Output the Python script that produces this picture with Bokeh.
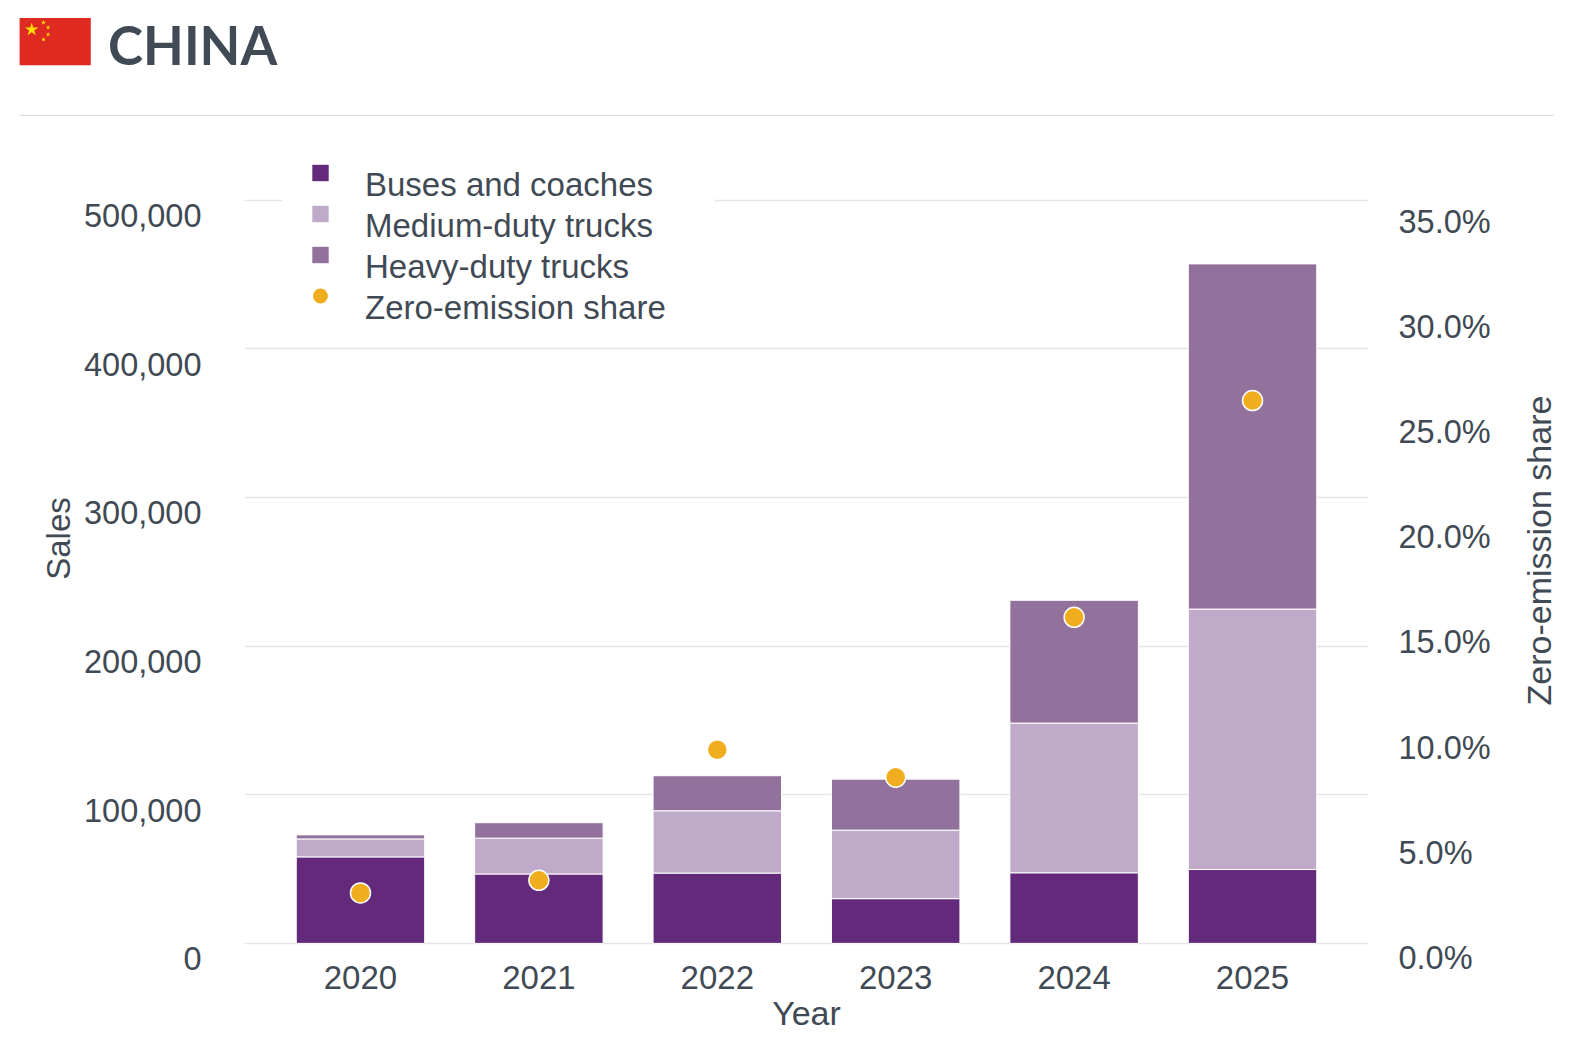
import math
from bokeh.plotting import figure
from bokeh.models import (ColumnDataSource, FactorRange, Range1d, LinearAxis, FixedTicker,
                          NumeralTickFormatter, PrintfTickFormatter, Grid, Legend, LegendItem)
from bokeh.core.properties import value
from bokeh.embed import file_html
from bokeh.resources import INLINE

# ---------------- data ----------------
country = "CHINA"
years = ["2020", "2021", "2022", "2023", "2024", "2025"]
buses = [58200, 46700, 47300, 30100, 47500, 49700]
medium = [12100, 24100, 41900, 46100, 100700, 175200]
heavy = [2700, 10400, 23600, 34300, 82600, 232200]
share = [2.4, 3.0, 9.2, 7.9, 15.5, 25.8]
series_names = ["Buses and coaches", "Medium-duty trucks", "Heavy-duty trucks"]
share_name = "Zero-emission share"
sales_ticks = [0, 100000, 200000, 300000, 400000, 500000]
share_ticks = [0, 5, 10, 15, 20, 25, 30, 35]

# ---------------- style ----------------
TEXT = "#3f4a54"
FONT = "Liberation Sans"
COLORS = ["#63297a", "#bfabc9", "#93719d"]
DOT = "#f0ad1e"

W_HEAD = 1563
W = 1579
HEAD_H = 116
MAIN_H = 1042 - HEAD_H
BL, BR, FT, FB = 244, 208, 0, 82
FRAME_W = W - BL - BR
FRAME_H = MAIN_H - FT - FB
PX_PER_SALE = 743.3 / 500000
PX_PER_PCT = 21.04
ZERO_UP = 17.1      # px from frame bottom to value 0
LEFT_LAB_UP = 1.8   # tick labels sit slightly below their grid lines
RIGHT_LAB_UP = 2.5


def rng(px_per_unit, up):
    start = -up / px_per_unit
    return Range1d(start, start + FRAME_H / px_per_unit)


# ---------------- header ----------------
head = figure(width=W_HEAD, height=HEAD_H, x_range=Range1d(0, W_HEAD), y_range=Range1d(HEAD_H, 0),
              toolbar_location=None, output_backend="svg", min_border=0,
              x_axis_location=None, y_axis_location=None, outline_line_color=None)
head.grid.visible = False
head.quad(left=[19.1], right=[90.3], top=[17.4], bottom=[64.7], fill_color="#de2a21", line_color=None)
head.scatter(x=[31.2], y=[29.2], marker="star", size=14, fill_color="#ffde00", line_color=None)
head.scatter(x=[43, 47.6, 47.6, 43], y=[22.1, 26.9, 33.9, 39.0], marker="star", size=5,
             fill_color="#ffde00", line_color=None)
head.text(x=[107.5], y=[43.5], text=[country], text_font=value("Lato"), text_font_style="bold",
          text_font_size="53px", text_color=TEXT, text_baseline="alphabetic")
head.segment(x0=[19.1], y0=[115], x1=[1553], y1=[115], line_color="#dddddd", line_width=1.5)

# ---------------- main chart ----------------
p = figure(width=W, height=MAIN_H,
           x_range=FactorRange(factors=years, range_padding=0.15, range_padding_units="absolute"),
           y_range=rng(PX_PER_SALE, ZERO_UP),
           toolbar_location=None, output_backend="svg",
           min_border_left=BL, min_border_right=BR, min_border_top=FT, min_border_bottom=FB,
           y_axis_location=None, outline_line_color=None)
p.extra_y_ranges = {
    "lab_left": rng(PX_PER_SALE, LEFT_LAB_UP),
    "share": rng(PX_PER_PCT, ZERO_UP),
    "lab_right": rng(PX_PER_PCT, RIGHT_LAB_UP),
}
p.grid.visible = False
p.add_layout(Grid(dimension=1, ticker=FixedTicker(ticks=sales_ticks),
                  grid_line_color="#e6e6e6", grid_line_width=1.5))

src = ColumnDataSource(dict(year=years, buses=buses, medium=medium, heavy=heavy, share=share))
p.vbar_stack(["buses", "medium", "heavy"], x="year", width=0.72, source=src,
             fill_color=COLORS, line_color="white", line_width=1)
dots = p.scatter(x="year", y="share", source=src, y_range_name="share", size=20,
                 fill_color=DOT, line_color="white", line_width=1.5)

# legend swatches (not drawn in the plot: NaN values)
swatches = [p.scatter(x=[years[0]], y=[float("nan")], marker="square", size=17,
                      fill_color=c, line_color=None) for c in COLORS]
blank = p.scatter(x=[years[0]], y=[float("nan")], marker="square", size=1,
                  fill_alpha=0, line_alpha=0)

LEG_X, LEG_Y = 38, 644.4
common = dict(orientation="vertical", spacing=0, padding=0, margin=0, glyph_width=76,
              glyph_height=41, label_height=41, label_width=350, label_standoff=7,
              label_text_font=FONT, label_text_font_size="33px", label_text_color=TEXT,
              border_line_color=None)
# symbols sit a little higher than their texts, as in the original
leg_sym = Legend(items=[LegendItem(label=" ", renderers=[r]) for r in swatches + [dots]],
                 location=(LEG_X, LEG_Y), background_fill_color="white",
                 background_fill_alpha=1, **common)
leg_txt = Legend(items=[LegendItem(label=n, renderers=[blank]) for n in series_names + [share_name]],
                 location=(LEG_X, LEG_Y - 13), background_fill_alpha=0, **common)
p.add_layout(leg_sym)
p.add_layout(leg_txt)


def style_axis(ax, standoff, size="32.5px"):
    ax.axis_line_color = None
    ax.major_tick_line_color = None
    ax.minor_tick_line_color = None
    ax.major_tick_out = 0
    ax.major_tick_in = 0
    ax.major_label_standoff = standoff
    ax.major_label_text_font = FONT
    ax.major_label_text_font_size = size
    ax.major_label_text_color = TEXT
    ax.axis_label_text_font = FONT
    ax.axis_label_text_font_size = "33px"
    ax.axis_label_text_color = TEXT
    ax.axis_label_text_font_style = "normal"


yl = LinearAxis(y_range_name="lab_left", ticker=FixedTicker(ticks=sales_ticks),
                formatter=NumeralTickFormatter(format="0,0"), axis_label="Sales")
style_axis(yl, 43)
yl.axis_label_standoff = 4
p.add_layout(yl, "left")

# right axis; its title reads bottom-to-top and starts part-way up the axis
yr = LinearAxis(y_range_name="lab_right", ticker=FixedTicker(ticks=share_ticks),
                formatter=PrintfTickFormatter(format="%.1f%%"),
                axis_label="\u00a0" * 27 + share_name)
style_axis(yr, 30)
yr.axis_label_text_font_size = "34px"
yr.axis_label_standoff = 45
for attr, val in (("axis_label_orientation", math.pi / 2), ("axis_label_align", "start")):
    try:
        setattr(yr, attr, val)
    except Exception:
        pass
p.add_layout(yr, "right")

xa = p.xaxis[0]
style_axis(xa, 5, "33px")
xa.axis_label = "Year"
xa.axis_label_text_font_size = "34px"
xa.axis_label_standoff = 2

open("out.html", "w").write(file_html([head, p], INLINE))
